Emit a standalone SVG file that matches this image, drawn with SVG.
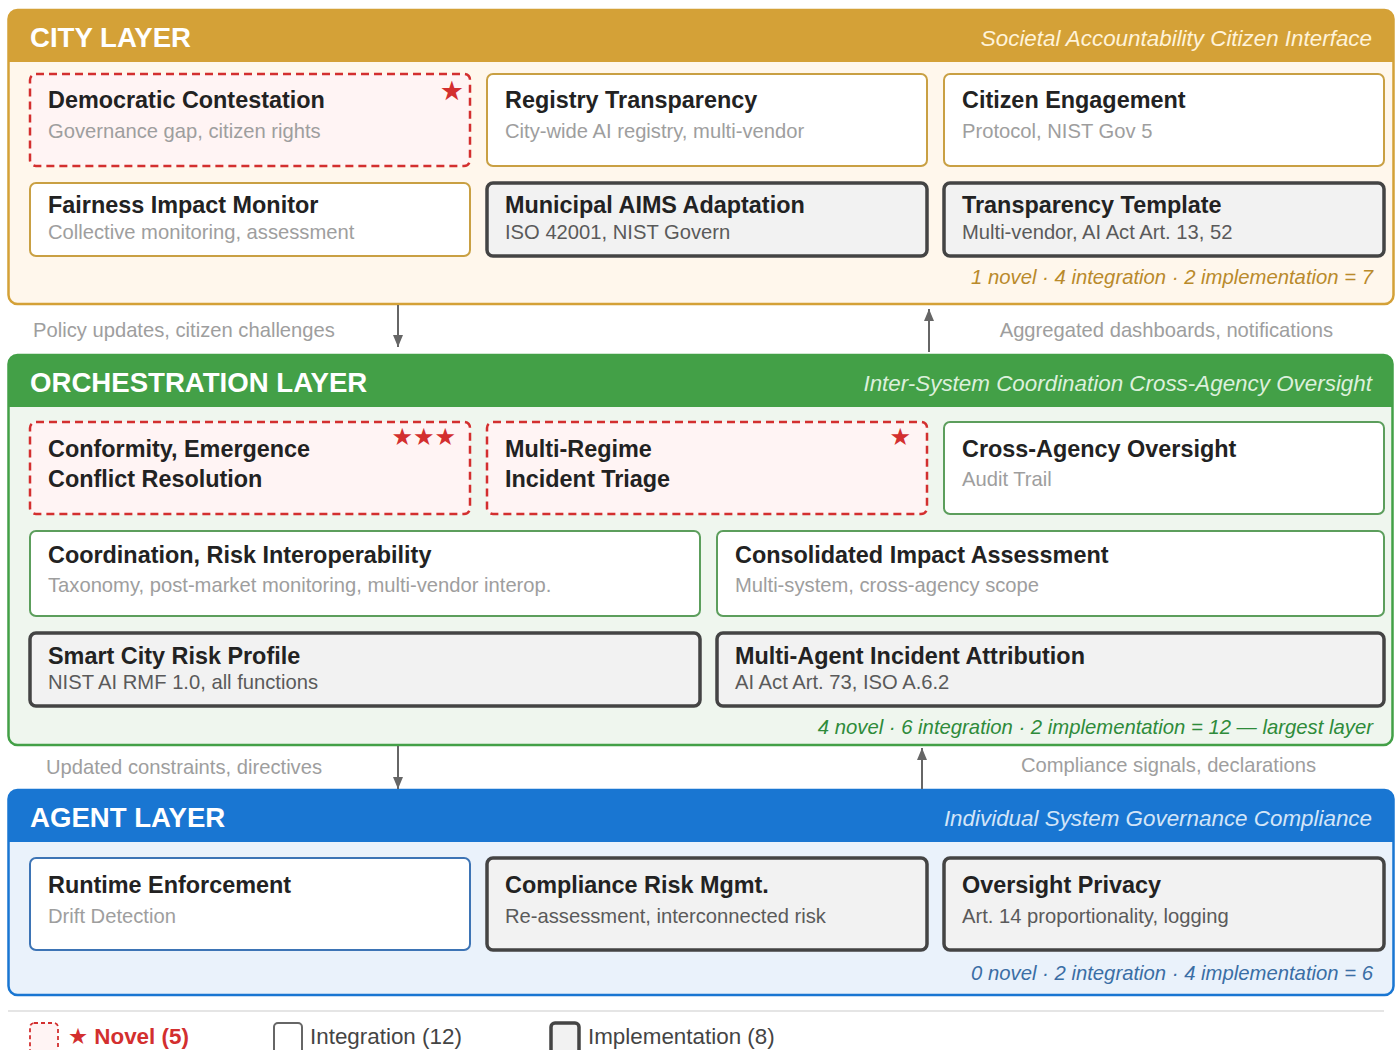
<svg xmlns="http://www.w3.org/2000/svg" width="1400" height="1050" viewBox="0 0 1400 1050">
<defs>
<marker id="arr" viewBox="0 0 12 10" refX="12" refY="5" markerWidth="12" markerHeight="10" markerUnits="userSpaceOnUse" orient="auto">
<path d="M0,0 L12,5 L0,10 Z" fill="#666"/>
</marker>
<style>
text{font-family:"Liberation Sans",Arial,"DejaVu Sans",sans-serif}
.hdr{font-size:27.6px;font-weight:bold;fill:#fff}
.hsub{font-size:22.4px;font-style:italic;text-anchor:end}
.t{font-size:23.4px;font-weight:bold;fill:#222}
.s{font-size:20.2px;fill:#9e9e9e}
.si{font-size:20.2px;fill:#5a5a5a}
.foot{font-size:20.3px;font-style:italic;text-anchor:end}
.lbl{font-size:20.2px;fill:#9e9e9e}
.star{font-family:"DejaVu Sans",sans-serif;fill:#d32f2f;text-anchor:end}
.nov{fill:#fff4f4;stroke:#d32f2f;stroke-width:2.5;stroke-dasharray:8 5}
.impl{fill:#f2f2f2;stroke:#444;stroke-width:3.5}
.intc{fill:#fff;stroke:#c9a043;stroke-width:2}
.into{fill:#fff;stroke:#5c9e5c;stroke-width:2}
.inta{fill:#fff;stroke:#3d74b5;stroke-width:2}
.conn{stroke:#666;stroke-width:2;fill:none}
</style>
</defs>
<rect width="1400" height="1050" fill="#fff"/>

<!-- CITY LAYER -->
<g id="city-layer">
<rect x="8.5" y="10" width="1385" height="294" rx="9" fill="#fff7ec" stroke="#d4a137" stroke-width="2.5"/>
<path d="M8.5,62 V19 A9,9 0 0 1 17.5,10 H1384.5 A9,9 0 0 1 1393.5,19 V62 Z" fill="#d4a137"/>
<text class="hdr" x="30" y="47">CITY LAYER</text>
<text class="hsub" x="1372" y="46" fill="#fff3d9">Societal Accountability Citizen Interface</text>
<text class="foot" x="1373" y="284" fill="#b98a2b">1 novel · 4 integration · 2 implementation = 7</text>
</g>
<g id="n-democratic">
<rect class="nov" x="30" y="74" width="440" height="92" rx="6"/>
<text class="star" x="464" y="100" font-size="27">★</text>
<text class="t" x="48" y="108">Democratic Contestation</text>
<text class="s" x="48" y="138">Governance gap, citizen rights</text>
</g>
<g id="n-registry">
<rect class="intc" x="487" y="74" width="440" height="92" rx="6"/>
<text class="t" x="505" y="108">Registry Transparency</text>
<text class="s" x="505" y="138">City-wide AI registry, multi-vendor</text>
</g>
<g id="n-citizen">
<rect class="intc" x="944" y="74" width="440" height="92" rx="6"/>
<text class="t" x="962" y="108">Citizen Engagement</text>
<text class="s" x="962" y="138">Protocol, NIST Gov 5</text>
</g>
<g id="n-fairness">
<rect class="intc" x="30" y="183" width="440" height="73" rx="6"/>
<text class="t" x="48" y="213">Fairness Impact Monitor</text>
<text class="s" x="48" y="239">Collective monitoring, assessment</text>
</g>
<g id="n-aims">
<rect class="impl" x="487" y="183" width="440" height="73" rx="6"/>
<text class="t" x="505" y="213">Municipal AIMS Adaptation</text>
<text class="si" x="505" y="239">ISO 42001, NIST Govern</text>
</g>
<g id="n-template">
<rect class="impl" x="944" y="183" width="440" height="73" rx="6"/>
<text class="t" x="962" y="213">Transparency Template</text>
<text class="si" x="962" y="239">Multi-vendor, AI Act Art. 13, 52</text>
</g>

<!-- ORCHESTRATION LAYER -->
<g id="orchestration-layer">
<rect x="8.5" y="355" width="1384" height="390" rx="9" fill="#eff6ee" stroke="#43a047" stroke-width="2.5"/>
<path d="M8.5,407 V364 A9,9 0 0 1 17.5,355 H1383.5 A9,9 0 0 1 1392.5,364 V407 Z" fill="#43a047"/>
<text class="hdr" x="30" y="392">ORCHESTRATION LAYER</text>
<text class="hsub" x="1372" y="391" fill="#dcf0dc">Inter-System Coordination Cross-Agency Oversight</text>
<text class="foot" x="1373" y="734" fill="#2e8b3a">4 novel · 6 integration · 2 implementation = 12 — largest layer</text>
</g>
<g id="n-conformity">
<rect class="nov" x="30" y="422" width="440" height="92" rx="6"/>
<text class="star" x="456" y="445" font-size="24">★★★</text>
<text class="t" x="48" y="457">Conformity, Emergence</text>
<text class="t" x="48" y="487">Conflict Resolution</text>
</g>
<g id="n-triage">
<rect class="nov" x="487" y="422" width="440" height="92" rx="6"/>
<text class="star" x="911" y="445" font-size="24">★</text>
<text class="t" x="505" y="457">Multi-Regime</text>
<text class="t" x="505" y="487">Incident Triage</text>
</g>
<g id="n-crossagency">
<rect class="into" x="944" y="422" width="440" height="92" rx="6"/>
<text class="t" x="962" y="457">Cross-Agency Oversight</text>
<text class="s" x="962" y="486">Audit Trail</text>
</g>
<g id="n-coordination">
<rect class="into" x="30" y="531" width="670" height="85" rx="6"/>
<text class="t" x="48" y="563">Coordination, Risk Interoperability</text>
<text class="s" x="48" y="592">Taxonomy, post-market monitoring, multi-vendor interop.</text>
</g>
<g id="n-consolidated">
<rect class="into" x="717" y="531" width="667" height="85" rx="6"/>
<text class="t" x="735" y="563">Consolidated Impact Assessment</text>
<text class="s" x="735" y="592">Multi-system, cross-agency scope</text>
</g>
<g id="n-riskprofile">
<rect class="impl" x="30" y="633" width="670" height="73" rx="6"/>
<text class="t" x="48" y="664">Smart City Risk Profile</text>
<text class="si" x="48" y="689">NIST AI RMF 1.0, all functions</text>
</g>
<g id="n-attribution">
<rect class="impl" x="717" y="633" width="667" height="73" rx="6"/>
<text class="t" x="735" y="664">Multi-Agent Incident Attribution</text>
<text class="si" x="735" y="689">AI Act Art. 73, ISO A.6.2</text>
</g>

<!-- AGENT LAYER -->
<g id="agent-layer">
<rect x="8.5" y="790" width="1385" height="205" rx="9" fill="#eaf2fb" stroke="#1976d2" stroke-width="2.5"/>
<path d="M8.5,842 V799 A9,9 0 0 1 17.5,790 H1384.5 A9,9 0 0 1 1393.5,799 V842 Z" fill="#1976d2"/>
<text class="hdr" x="30" y="827">AGENT LAYER</text>
<text class="hsub" x="1372" y="826" fill="#d3e5f8">Individual System Governance Compliance</text>
<text class="foot" x="1373" y="980" fill="#3a6ea5">0 novel · 2 integration · 4 implementation = 6</text>
</g>
<g id="n-runtime">
<rect class="inta" x="30" y="858" width="440" height="92" rx="6"/>
<text class="t" x="48" y="893">Runtime Enforcement</text>
<text class="s" x="48" y="923">Drift Detection</text>
</g>
<g id="n-compliance">
<rect class="impl" x="487" y="858" width="440" height="92" rx="6"/>
<text class="t" x="505" y="893">Compliance Risk Mgmt.</text>
<text class="si" x="505" y="923">Re-assessment, interconnected risk</text>
</g>
<g id="n-privacy">
<rect class="impl" x="944" y="858" width="440" height="92" rx="6"/>
<text class="t" x="962" y="893">Oversight Privacy</text>
<text class="si" x="962" y="923">Art. 14 proportionality, logging</text>
</g>

<!-- CONNECTORS -->
<g id="connectors">
<line class="conn" x1="398" y1="305" x2="398" y2="347" marker-end="url(#arr)"/>
<line class="conn" x1="929" y1="352" x2="929" y2="309" marker-end="url(#arr)"/>
<line class="conn" x1="398" y1="746" x2="398" y2="789" marker-end="url(#arr)"/>
<line class="conn" x1="922" y1="789" x2="922" y2="748" marker-end="url(#arr)"/>
<text class="lbl" x="33" y="337">Policy updates, citizen challenges</text>
<text class="lbl" x="1333" y="337" text-anchor="end">Aggregated dashboards, notifications</text>
<text class="lbl" x="46" y="774">Updated constraints, directives</text>
<text class="lbl" x="1316" y="772" text-anchor="end">Compliance signals, declarations</text>
</g>

<!-- LEGEND -->
<g id="legend">
<line x1="8" y1="1011" x2="1384" y2="1011" stroke="#dddddd" stroke-width="1.5"/>
<rect x="30" y="1023" width="28" height="34" rx="4" fill="#fff4f4" stroke="#d32f2f" stroke-width="1.8" stroke-dasharray="4 3"/>
<text x="68" y="1044" font-size="22.4" font-weight="bold" fill="#d32f2f">★ Novel (5)</text>
<rect x="274" y="1023" width="28" height="34" rx="4" fill="#fff" stroke="#666" stroke-width="2"/>
<text x="310" y="1044" font-size="22.4" fill="#444">Integration (12)</text>
<rect x="551" y="1023" width="28" height="34" rx="4" fill="#f2f2f2" stroke="#444" stroke-width="3.5"/>
<text x="588" y="1044" font-size="22.4" fill="#444">Implementation (8)</text>
</g>
</svg>
